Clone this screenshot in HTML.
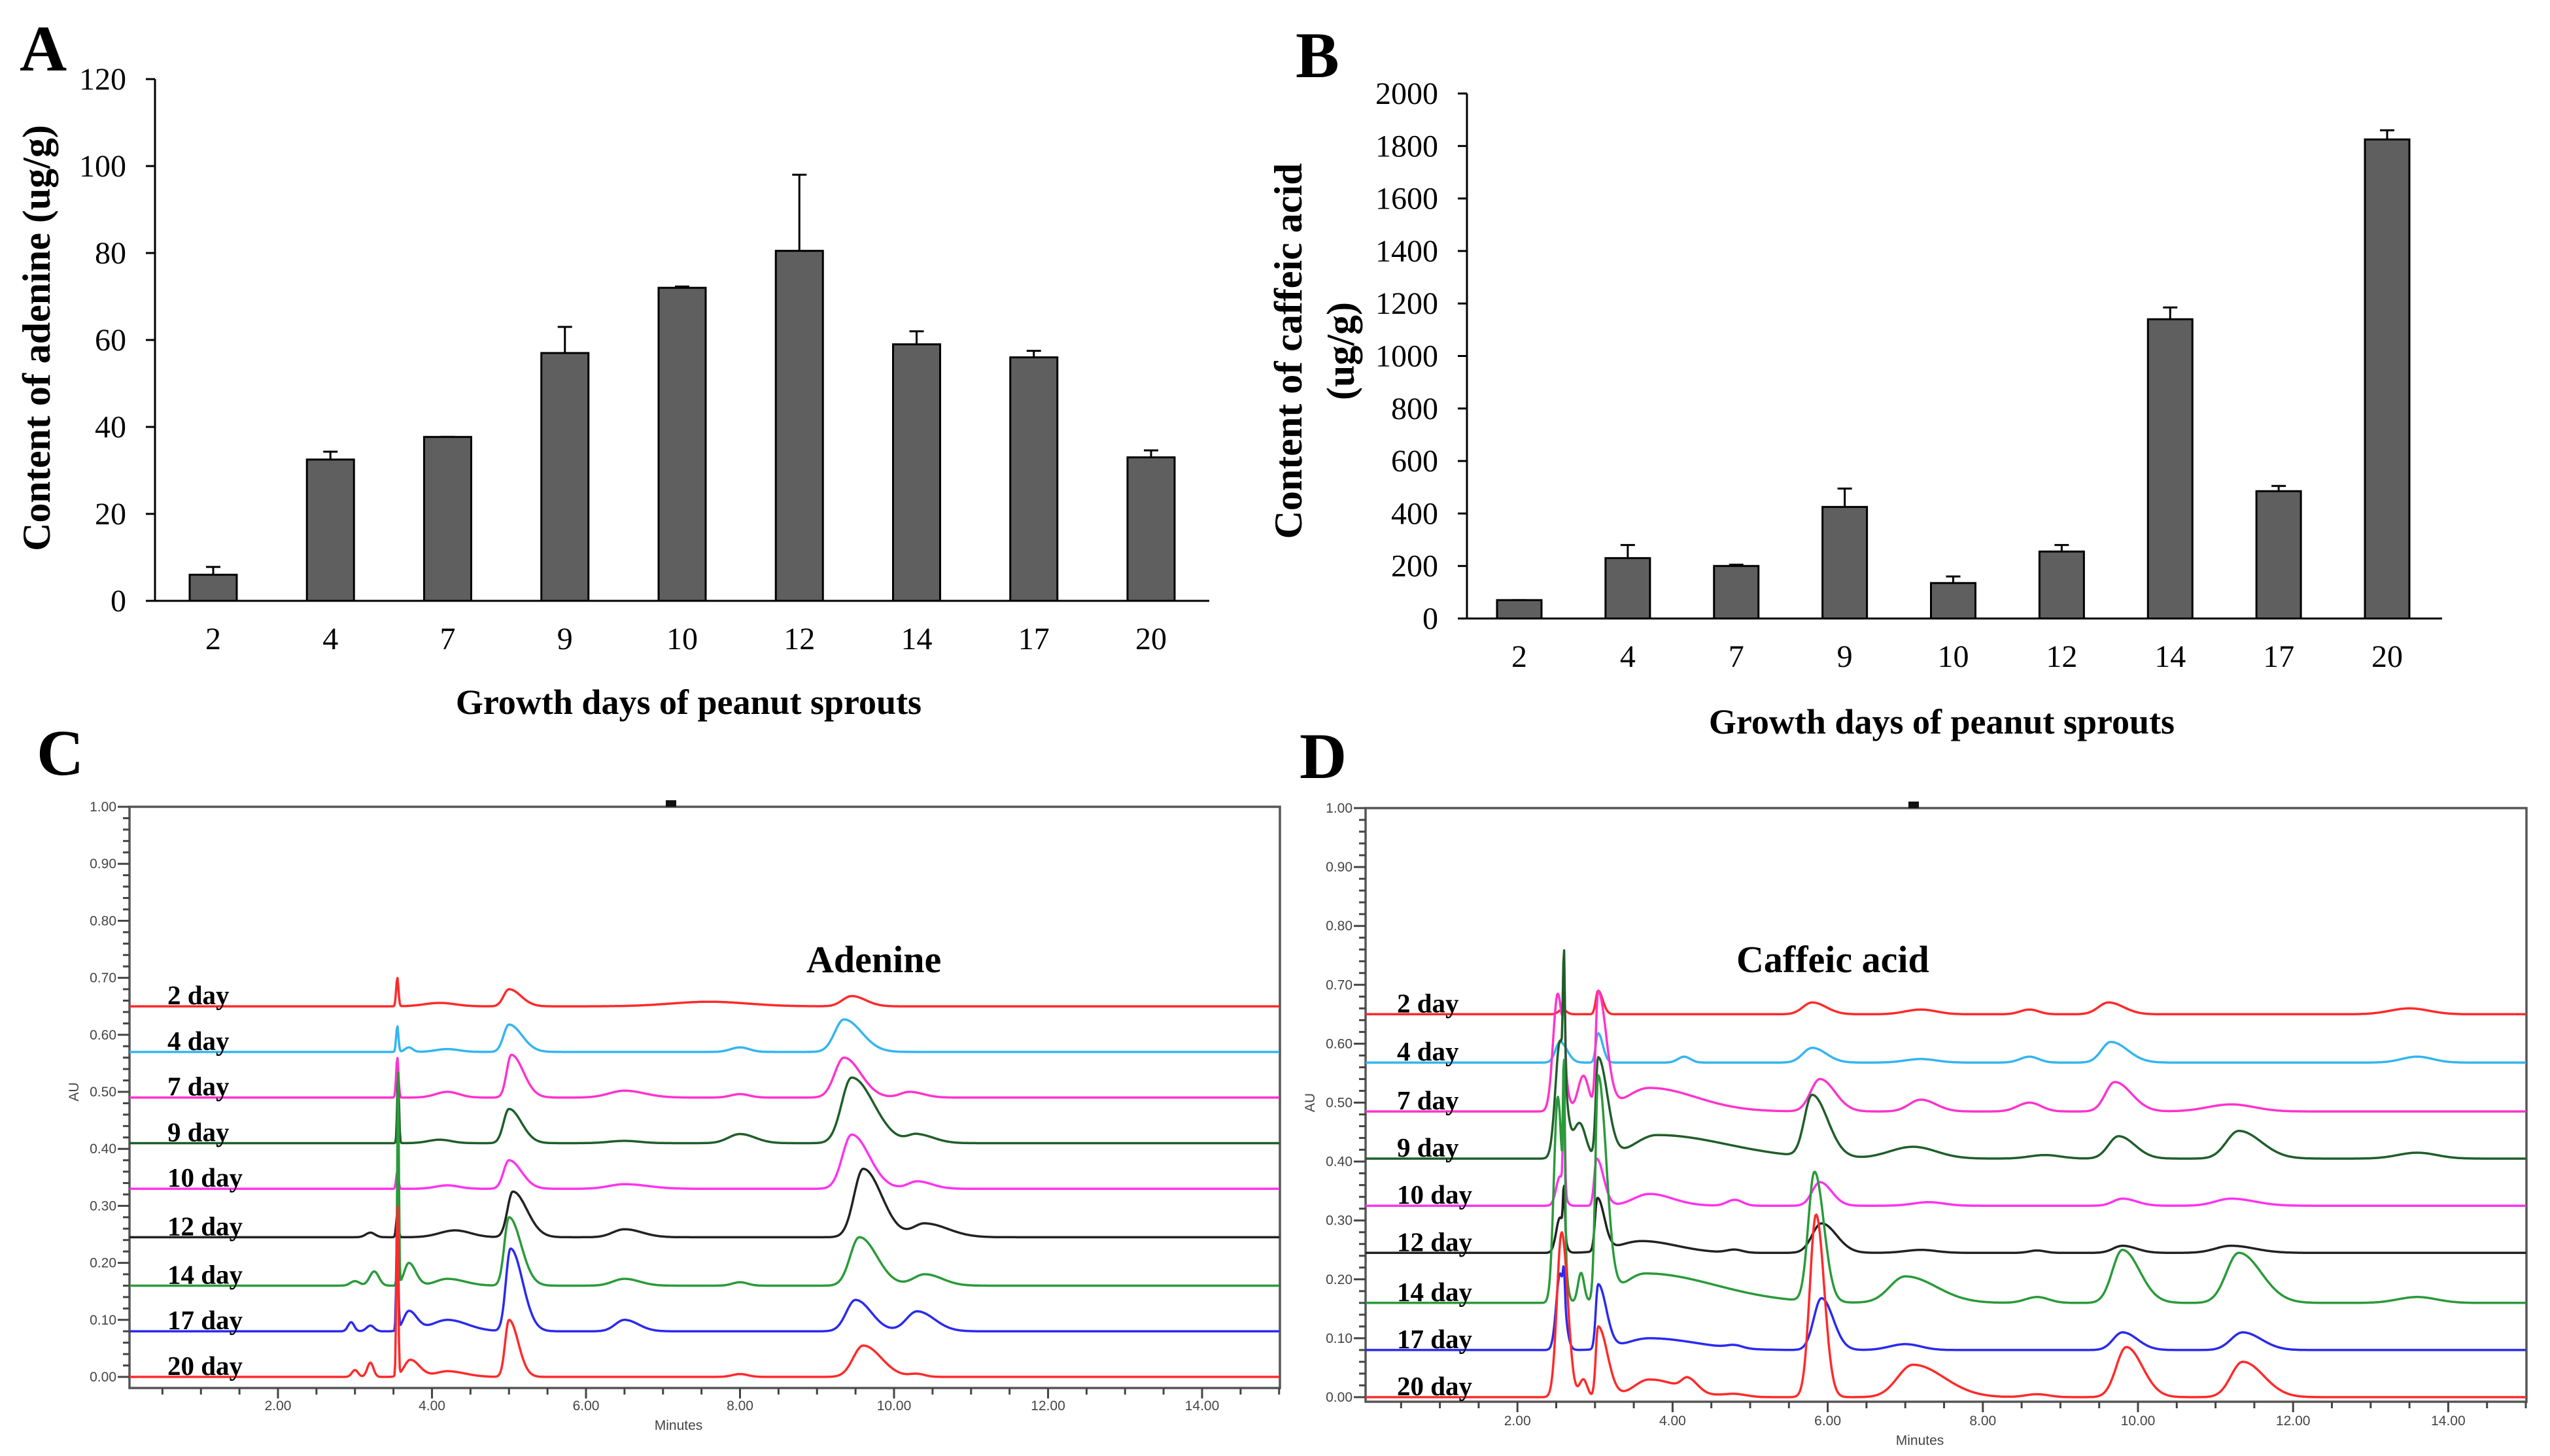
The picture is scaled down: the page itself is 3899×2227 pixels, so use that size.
<!DOCTYPE html>
<html><head><meta charset="utf-8"><style>
html,body{margin:0;padding:0;background:#fff}
svg{display:block}
text{font-family:"Liberation Serif",serif}
.sans{font-family:"Liberation Sans",sans-serif}
</style></head><body>
<svg id="fig" width="3899" height="2227" viewBox="0 0 3899 2227" xmlns="http://www.w3.org/2000/svg">
<rect width="3899" height="2227" fill="#fff"/>
<g id="pA"></g>
<g id="pB"></g>
<g id="pC"></g>
<g id="pD"></g>
</svg>
<script>
// ---- Panel A / B data ----
const categories = ["2","4","7","9","10","12","14","17","20"];
const adenineValues = [6, 32.5, 37.7, 57, 72, 80.5, 59, 56, 33];
const adenineErrTop = [7.8, 34.3, 37.7, 63, 72.3, 98, 62, 57.5, 34.6];
const adenineTicks = [0,20,40,60,80,100,120];
const caffeicValues = [70, 230, 200, 425, 135, 255, 1140, 485, 1825];
const caffeicErrTop = [70, 280, 205, 495, 160, 280, 1185, 505, 1860];
const caffeicTicks = [0,200,400,600,800,1000,1200,1400,1600,1800,2000];

// ---- Chromatogram data ----
const dayLabels = ["2 day","4 day","7 day","9 day","10 day","12 day","14 day","17 day","20 day"];
const traceColors = ["#ff2a2a","#33b5f0","#ff33cc","#1f5e2a","#ff33ee","#222222","#2a9a3a","#2a2aee","#ff2a2a"];
const adenineBaselines = [0.65,0.57,0.49,0.41,0.33,0.245,0.16,0.08,0.0];
// peaks: [time, height, sigma, tailFactor]
const adeninePeaks = [
 [[3.55,0.05,0.015,1],[4.1,0.006,0.2,1],[5.0,0.03,0.07,2.2],[7.6,0.008,0.5,1],[9.45,0.018,0.12,1.5]],
 [[3.55,0.045,0.015,1],[3.7,0.008,0.05,1],[4.2,0.005,0.15,1],[5.0,0.048,0.07,2.4],[8.0,0.008,0.12,1],[9.35,0.057,0.12,1.9]],
 [[3.55,0.07,0.015,1],[4.2,0.01,0.15,1],[5.03,0.075,0.06,2.6],[6.5,0.012,0.2,1.3],[8.0,0.006,0.12,1],[9.35,0.07,0.12,1.8],[10.2,0.01,0.12,1.5]],
 [[3.56,0.12,0.012,1],[4.1,0.006,0.15,1],[5.0,0.06,0.07,2.3],[6.5,0.004,0.2,1],[8.0,0.016,0.15,1.3],[9.45,0.115,0.13,2.2],[10.3,0.015,0.12,1.8]],
 [[3.55,0.03,0.015,1],[4.2,0.006,0.15,1],[5.0,0.05,0.07,2.3],[6.5,0.008,0.2,1.5],[9.45,0.095,0.12,1.9],[10.3,0.013,0.12,1.6]],
 [[3.2,0.008,0.06,1],[3.55,0.04,0.015,1],[4.3,0.012,0.2,1],[5.05,0.08,0.07,2.6],[6.5,0.014,0.15,1.5],[9.6,0.12,0.12,2.0],[10.4,0.024,0.15,2]],
 [[3.0,0.008,0.06,1],[3.25,0.025,0.06,1],[3.56,0.38,0.01,1],[3.7,0.04,0.06,1.5],[4.2,0.012,0.15,1.5],[5.0,0.12,0.06,2.6],[6.5,0.012,0.15,1.3],[8.0,0.006,0.1,1],[9.55,0.085,0.12,1.9],[10.4,0.02,0.15,1.5]],
 [[2.95,0.016,0.04,1],[3.2,0.01,0.05,1],[3.55,0.2,0.012,1],[3.7,0.035,0.07,1.5],[4.2,0.02,0.2,1.3],[5.02,0.145,0.06,2.6],[6.5,0.02,0.12,1.5],[9.5,0.055,0.12,1.7],[10.3,0.035,0.14,1.6]],
 [[3.0,0.012,0.04,1],[3.2,0.025,0.04,1],[3.55,0.3,0.012,1],[3.72,0.03,0.08,1.5],[4.2,0.01,0.15,1.5],[5.0,0.1,0.05,2.4],[8.0,0.005,0.1,1],[9.6,0.055,0.13,1.8],[10.3,0.005,0.1,1]]
];
const caffeicBaselines = [0.65,0.568,0.485,0.405,0.325,0.245,0.16,0.08,0.0];
const caffeicPeaks = [
 [[2.58,0.008,0.05,1],[3.04,0.04,0.03,2],[5.8,0.02,0.12,1.5],[7.2,0.008,0.2,1],[8.6,0.008,0.12,1],[9.62,0.02,0.13,1.5],[13.5,0.01,0.25,1]],
 [[2.55,0.035,0.06,1.5],[3.04,0.05,0.03,2],[4.15,0.01,0.08,1],[5.8,0.025,0.12,1.5],[7.2,0.006,0.2,1],[8.6,0.01,0.12,1],[9.65,0.035,0.12,1.8],[13.6,0.01,0.2,1]],
 [[2.52,0.2,0.06,1.2],[2.6,0.15,0.012,1],[2.85,0.06,0.07,1],[3.04,0.2,0.03,3.5],[3.7,0.04,0.3,2],[5.9,0.055,0.12,1.6],[7.2,0.02,0.15,1.3],[8.6,0.015,0.15,1],[9.7,0.05,0.12,1.8],[11.2,0.012,0.3,1]],
 [[2.55,0.2,0.06,1.2],[2.6,0.2,0.012,1],[2.8,0.06,0.08,1],[3.04,0.17,0.03,4],[3.8,0.04,0.3,3],[5.8,0.105,0.1,2],[7.1,0.02,0.3,1],[8.8,0.006,0.2,1],[9.75,0.038,0.13,1.6],[11.3,0.047,0.16,1.8],[13.6,0.01,0.25,1]],
 [[2.55,0.05,0.05,1],[2.6,0.17,0.012,1],[3.02,0.08,0.03,3],[3.7,0.02,0.2,1.5],[4.8,0.01,0.1,1],[5.9,0.04,0.1,1.5],[7.3,0.006,0.2,1],[9.8,0.012,0.12,1.5],[11.2,0.012,0.2,1.5]],
 [[2.55,0.06,0.05,1],[2.6,0.08,0.012,1],[3.03,0.09,0.03,3],[3.6,0.02,0.3,1.5],[4.8,0.005,0.1,1],[5.92,0.05,0.12,1.6],[7.2,0.005,0.2,1],[8.7,0.004,0.1,1],[9.8,0.012,0.12,1.5],[11.2,0.012,0.2,1.5]],
 [[2.52,0.35,0.05,1.2],[2.6,0.28,0.012,1],[2.82,0.05,0.04,1],[3.04,0.38,0.035,3],[3.65,0.05,0.3,3],[5.83,0.22,0.08,1.5],[7.0,0.045,0.2,2],[8.7,0.01,0.15,1],[9.8,0.09,0.13,1.7],[11.3,0.085,0.16,1.8],[13.6,0.01,0.25,1]],
 [[2.55,0.13,0.05,1.2],[2.6,0.05,0.012,1],[3.04,0.11,0.03,3.5],[3.7,0.02,0.3,2],[4.8,0.005,0.1,1],[5.92,0.088,0.1,1.5],[7.0,0.01,0.2,1],[9.8,0.03,0.12,1.6],[11.35,0.03,0.15,1.6]],
 [[2.57,0.28,0.06,1.3],[2.85,0.03,0.05,1],[3.04,0.12,0.03,4],[3.7,0.03,0.2,2],[4.2,0.02,0.08,1.5],[4.8,0.005,0.15,1],[5.85,0.31,0.08,1.3],[7.1,0.055,0.2,2],[8.7,0.005,0.15,1],[9.85,0.085,0.13,1.6],[11.35,0.06,0.15,1.8]]
];
const minuteTicks = [2,4,6,8,10,12,14];
const auTicks = [0,0.1,0.2,0.3,0.4,0.5,0.6,0.7,0.8,0.9,1.0];

const NS="http://www.w3.org/2000/svg";
function mk(parent,tag,attrs,txt){const e=document.createElementNS(NS,tag);for(const k in attrs)e.setAttribute(k,attrs[k]);if(txt!==undefined)e.textContent=txt;parent.appendChild(e);return e;}

function barChart(g,cfg,vals,errs,ticks){
  const ymax=ticks[ticks.length-1];
  const Y=v=>cfg.y0-(v/ymax)*(cfg.y0-cfg.yTop);
  const X=i=>cfg.xFirst+i*(cfg.xLast-cfg.xFirst)/(categories.length-1);
  let a=mk(g,'line',{x1:cfg.ax,y1:cfg.yTop,x2:cfg.ax,y2:cfg.y0,stroke:'#000','stroke-width':3});
  
  a=mk(g,'line',{x1:cfg.ax-14,y1:cfg.y0,x2:cfg.axEnd,y2:cfg.y0,stroke:'#000','stroke-width':3});
  
  ticks.forEach(t=>{
    const tk=mk(g,'line',{x1:cfg.ax-14,y1:Y(t),x2:cfg.ax,y2:Y(t),stroke:'#000','stroke-width':3});
    
    const tl=mk(g,'text',{x:cfg.ax-44,y:Y(t)+16,'text-anchor':'end','font-size':48},String(t));
    
  });
  vals.forEach((v,i)=>{
    const cx=X(i);
    const eb=mk(g,'path',{d:`M${cx},${Y(v)}V${Y(errs[i])}M${cx-11},${Y(errs[i])}H${cx+11}`,stroke:'#000','stroke-width':3,fill:'none'});
    
    const r=mk(g,'rect',{x:cx-cfg.bw/2,y:Y(v),width:cfg.bw,height:cfg.y0-Y(v),fill:'#5f5f5f',stroke:'#000','stroke-width':3});
    
    const tl=mk(g,'text',{x:cx,y:cfg.y0+74,'text-anchor':'middle','font-size':48},categories[i]);
    
  });
}

const gA=document.getElementById('pA');
barChart(gA,{ax:237,yTop:121,y0:919,axEnd:1849,xFirst:326,xLast:1760,bw:72},adenineValues,adenineErrTop,adenineTicks);
let t=mk(gA,'text',{x:30,y:108,'font-size':100,'font-weight':'bold'},'A');

t=mk(gA,'text',{x:0,y:0,'font-size':60,'font-weight':'bold','text-anchor':'middle',transform:'translate(76,517) rotate(-90)'},'Content of adenine (ug/g)');

t=mk(gA,'text',{x:1053,y:1092,'font-size':54,'font-weight':'bold','text-anchor':'middle'},'Growth  days of peanut sprouts');


const gB=document.getElementById('pB');
barChart(gB,{ax:2243,yTop:143,y0:946,axEnd:3734,xFirst:2323,xLast:3650,bw:68},caffeicValues,caffeicErrTop,caffeicTicks);
t=mk(gB,'text',{x:1981,y:118,'font-size':100,'font-weight':'bold'},'B');

t=mk(gB,'text',{x:0,y:0,'font-size':60,'font-weight':'bold','text-anchor':'middle',transform:'translate(1990,537) rotate(-90)'},'Content of caffeic acid');

t=mk(gB,'text',{x:0,y:0,'font-size':60,'font-weight':'bold','text-anchor':'middle',transform:'translate(2070,537) rotate(-90)'},'(ug/g)');

t=mk(gB,'text',{x:2969,y:1122,'font-size':54,'font-weight':'bold','text-anchor':'middle'},'Growth  days of peanut sprouts');


function chromatogram(g,cfg,bases,peaks,title){
  const X=m=>cfg.x0+m*cfg.pxMin;
  const Y=v=>cfg.y0-v*cfg.pxAU;
  const fr=mk(g,'rect',{x:cfg.left,y:cfg.top,width:cfg.right-cfg.left,height:cfg.bottom-cfg.top,fill:'none',stroke:'#555','stroke-width':3.5});
  
  const mkSq=mk(g,'rect',{x:cfg.marker-8,y:cfg.top-10,width:16,height:10,fill:'#111'});
  
  for(let i=0;i<=50;i++){
    const v=i*0.02, major=i%5===0;
    const tk=mk(g,'line',{x1:cfg.left-(major?18:10),y1:Y(v),x2:cfg.left,y2:Y(v),stroke:'#444','stroke-width':3});
    
  }
  auTicks.forEach(v=>{
    const tl=mk(g,'text',{x:cfg.left-20,y:Y(v)+7,'text-anchor':'end','font-size':21,fill:'#444',class:'sans'},v.toFixed(2));
    
  });
  for(let m=0.5;m<=15;m+=0.5){
    const major=Math.abs(m-Math.round(m))<1e-6&&Math.round(m)%2===0;
    const tk=mk(g,'line',{x1:X(m),y1:cfg.bottom,x2:X(m),y2:cfg.bottom+(major?16:10),stroke:'#444','stroke-width':3});
    
  }
  minuteTicks.forEach(m=>{
    const tl=mk(g,'text',{x:X(m),y:cfg.bottom+cfg.lblOff,'text-anchor':'middle','font-size':21,fill:'#444',class:'sans'},m.toFixed(2));
    
  });
  let tx=mk(g,'text',{x:(cfg.left+cfg.right)/2-40,y:cfg.bottom+cfg.lblOff+30,'text-anchor':'middle','font-size':21,fill:'#444',class:'sans'},'Minutes');
  
  tx=mk(g,'text',{x:0,y:0,'font-size':21,fill:'#444',class:'sans','text-anchor':'middle',transform:`translate(${cfg.left-78},${Y(0.5)}) rotate(-90)`},'AU');
  
  const tEnd=(cfg.right-cfg.x0)/cfg.pxMin, tStart=(cfg.left-cfg.x0)/cfg.pxMin;
  bases.forEach((b,si)=>{
    let d='';
    for(let m=tStart;m<=tEnd;m+=0.01){
      let v=b;
      peaks[si].forEach(p=>{const s=m<p[0]?p[2]:p[2]*p[3];v+=p[1]*Math.exp(-0.5*((m-p[0])/s)**2);});
      d+=(d?'L':'M')+X(m).toFixed(1)+','+Y(v).toFixed(1);
    }
    const pl=mk(g,'path',{d:d,fill:'none',stroke:traceColors[si],'stroke-width':3.5,'stroke-linejoin':'round'});
    
    
  });
  bases.forEach((b,si)=>{
    const lb=mk(g,'text',{x:cfg.labelX,y:Y(b)-3,'font-size':41,'font-weight':'bold'},dayLabels[si]);
    
    
  });
  tx=mk(g,'text',{x:cfg.titleX,y:1487,'font-size':58,'font-weight':'bold'},title);
  
}
const gC=document.getElementById('pC');
chromatogram(gC,{x0:189.5,pxMin:117.75,y0:2106,pxAU:872,left:198,right:1957,top:1234,bottom:2123,marker:1026,labelX:256,titleX:1233,lblOff:34},adenineBaselines,adeninePeaks,'Adenine');
t=mk(gC,'text',{x:56,y:1185,'font-size':100,'font-weight':'bold'},'C');

const gD=document.getElementById('pD');
chromatogram(gD,{x0:2083,pxMin:118.6,y0:2137,pxAU:901,left:2088,right:3863,top:1236,bottom:2144,marker:2926,labelX:2136,titleX:2655,lblOff:36},caffeicBaselines,caffeicPeaks,'Caffeic acid');
t=mk(gD,'text',{x:1987,y:1190,'font-size':100,'font-weight':'bold'},'D');

</script>
</body></html>
